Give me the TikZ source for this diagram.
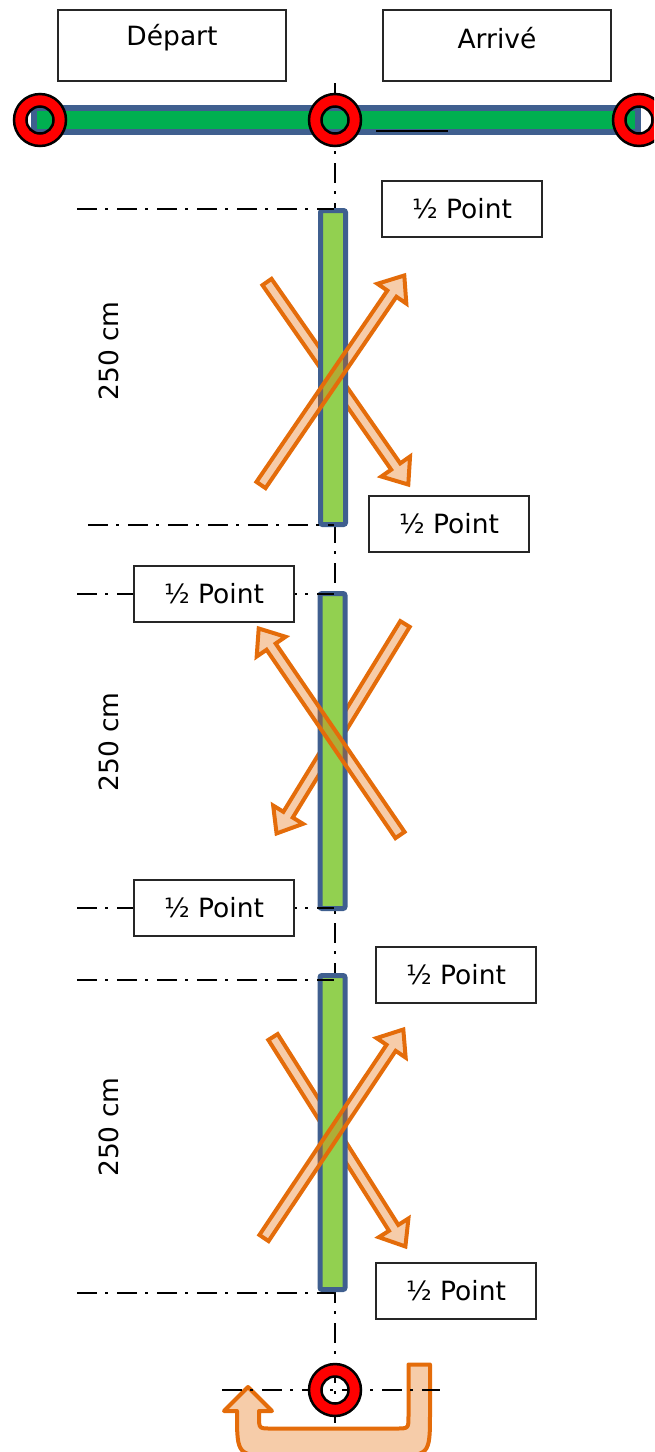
\documentclass[tikz,border=0pt]{standalone}
\usepackage{fontspec}
\setmainfont{DejaVu Sans}
\definecolor{railgreen}{HTML}{00B050}
\definecolor{postgreen}{HTML}{92D050}
\definecolor{railblue}{HTML}{3F5F8F}
\definecolor{arroworange}{HTML}{E46C0A}

% block arrow from tail (#1,#2) to tip (#3,#4)
\newcommand\crossarrow[4]{%
  \pgfmathsetmacro\caDX{#3-#1}%
  \pgfmathsetmacro\caDY{#2-#4}%
  \pgfmathsetmacro\caAng{atan2(\caDY,\caDX)}%
  \pgfmathsetmacro\caLen{veclen(\caDX,\caDY)-3}%
  \pgfmathsetmacro\caNeck{\caLen-22}%
  \begin{scope}[shift={(#1,#2)}, rotate=\caAng]
    \draw[blockarrow] (0,-5.5) -- (\caNeck,-5.5) -- (\caNeck,-17.5) -- (\caLen,0)
      -- (\caNeck,17.5) -- (\caNeck,5.5) -- (0,5.5) -- cycle;
  \end{scope}}

\begin{document}
\begin{tikzpicture}[x=1pt,y=-1pt,
  every node/.style={font=\fontsize{26.5}{30}\selectfont},
  halfbox/.style={draw=black!85, line width=1.3pt, fill=white,
    minimum width=160pt, minimum height=56pt, inner sep=0pt},
  titlebox/.style={draw=black!85, line width=1.3pt, fill=white,
    minimum width=228pt, minimum height=71pt, inner sep=0pt},
  axis/.style={line width=2.2pt, dash pattern=on 20pt off 8pt on 3pt off 9pt},
  rail/.style={fill=railgreen, draw=railblue, line width=6pt},
  post/.style={fill=postgreen, draw=railblue, line width=5pt, rounded corners=2pt},
  ring/.style={fill=red, draw=black, line width=2.5pt, even odd rule},
  blockarrow/.style={draw=arroworange, fill=arroworange, fill opacity=0.35,
    line width=4pt, miter limit=10},
]
\useasboundingbox (0,0) rectangle (654,1452);
\clip (0,0) rectangle (654,1452);

% centre line of the course
\draw[axis] (335,83) -- (335,1424);

% start / finish rail
\draw[rail] (34,108) rectangle (638,132);
\draw[line width=2pt] (376,131) -- (448,131);

% titles
\node[titlebox] (depbox) at (172,45.5) {};
\node (deptext) at (172,38) {Départ};
\node[titlebox] (arrbox) at (497,45.5) {};
\node (arrtext) at (497,38) {Arrivé};

% pylons on the rail
\coordinate (pl) at (40,120);
\coordinate (pm) at (335,120);
\coordinate (pr) at (639,120);
\foreach \p in {pl,pm,pr}
  \draw[ring] (\p) circle (26) (\p) circle (13.5);

% crossings behind the posts
\crossarrow{267}{282}{410}{487}
\crossarrow{405}{624}{275}{836}
\crossarrow{273}{1037}{407}{1249}

% posts
\draw[post] (320.5,210.5) rectangle (345.5,524.5);
\draw[post] (320,593.5) rectangle (345,908.5);
\draw[post] (320,975.5) rectangle (345,1289.5);

% crossings in front of the posts
\crossarrow{261}{485}{406}{273}
\crossarrow{400}{835}{257}{626}
\crossarrow{264}{1238}{405}{1027}

% reference lines
\draw[axis] (77,209) -- (334,209);
\draw[axis] (88,525) -- (334,525);
\draw[axis] (77,594) -- (334,594);
\draw[axis] (77,908) -- (334,908);
\draw[axis] (77,980) -- (334,980);
\draw[axis] (77,1293) -- (334,1293);

% half point labels
\node[halfbox] (h1) at (462,209) {½ Point};
\node[halfbox] (h2) at (449,524) {½ Point};
\node[halfbox] (h3) at (214,594) {½ Point};
\node[halfbox] (h4) at (214,908) {½ Point};
\node[halfbox] (h5) at (456,975) {½ Point};
\node[halfbox] (h6) at (456,1291) {½ Point};

% lengths
\node[rotate=90] (d1) at (109,351) {250 cm};
\node[rotate=90] (d2) at (109,742) {250 cm};
\node[rotate=90] (d3) at (109,1127) {250 cm};

% turning arrow at the bottom
\draw[blockarrow, line join=round]
  (408.5,1364.5) -- (430,1364.5) -- (430,1412) .. controls (430,1456) .. (388,1456)
  -- (279,1456) .. controls (237,1456) .. (237,1412) -- (237,1411) -- (224,1411)
  -- (248,1387) -- (272,1411) -- (259,1411) -- (259,1416)
  .. controls (259,1428.5) .. (271,1428.5) -- (396,1428.5)
  .. controls (408.5,1428.5) .. (408.5,1416) -- cycle;
\draw[axis] (222,1390) -- (440,1390);

% turning pylon
\coordinate (pb) at (335,1390);
\draw[ring] (pb) circle (26) (pb) circle (13.5);
\end{tikzpicture}
\end{document}
